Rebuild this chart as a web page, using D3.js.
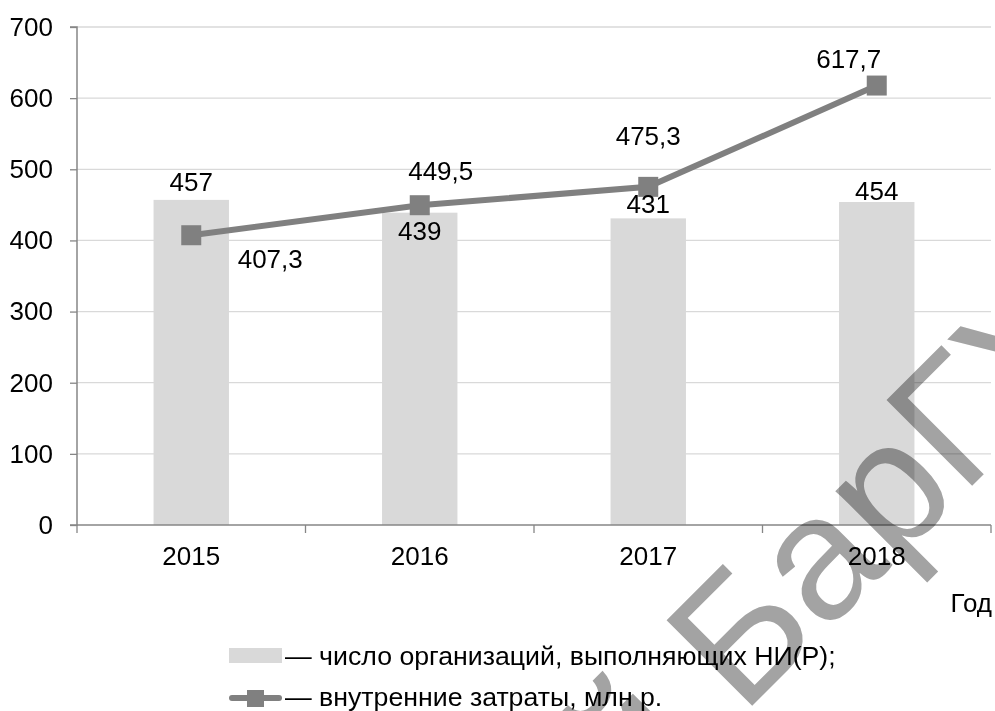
<!DOCTYPE html>
<html>
<head>
<meta charset="utf-8">
<script src="https://cdn.jsdelivr.net/npm/d3@7"></script>
<style>
  body { margin: 0; background: #fff; }
  svg text { font-family: "Liberation Sans", Arial, sans-serif; fill: #000; }
</style>
</head>
<body>
<div id="chart"></div>
<script>
// data
var years = ["2015", "2016", "2017", "2018"];
var orgCount = [457, 439, 431, 454];            // число организаций
var costs = [407.3, 449.5, 475.3, 617.7];        // внутренние затраты, млн р.
var yTicks = [0, 100, 200, 300, 400, 500, 600, 700];
var legendNames = ["— число организаций, выполняющих НИ(Р);", "— внутренние затраты, млн р."];

// label placement (px, relative to bar top / marker centre)
var barLabelDy = [-9, 27, -5, -2];
var lineLabelDx = [79, 21, 0, -28];
var lineLabelDy = [33, -25, -42, -18];

var W = 995, H = 711;
var plotLeft = 77, plotRight = 991, plotTop = 27, plotBottom = 525;
var grey = "#808080";

var svg = d3.select("#chart")
  .append("svg")
  .attr("width", W)
  .attr("height", H);

var x = d3.scaleBand()
  .domain(years)
  .range([plotLeft, plotRight])
  .paddingInner(0.67)
  .paddingOuter(0.335);

var y = d3.scaleLinear()
  .domain([0, 700])
  .range([plotBottom, plotTop]);

// gridlines
svg.append("g")
  .selectAll("line")
  .data(yTicks.slice(1))
  .enter()
  .append("line")
    .attr("x1", plotLeft)
    .attr("x2", plotRight)
    .attr("y1", function(d) { return y(d); })
    .attr("y2", function(d) { return y(d); })
    .attr("stroke", "#d9d9d9")
    .attr("stroke-width", 1.3);

// bars
svg.append("g")
  .selectAll("rect")
  .data(orgCount)
  .enter()
  .append("rect")
    .attr("x", function(d, i) { return x(years[i]); })
    .attr("width", x.bandwidth())
    .attr("y", function(d) { return y(d); })
    .attr("height", function(d) { return y(0) - y(d); })
    .attr("fill", "#d9d9d9");

// y axis
var yAxis = svg.append("g")
  .attr("transform", "translate(" + plotLeft + ",0)")
  .call(d3.axisLeft(y).tickValues(yTicks).tickSize(7).tickPadding(17));
yAxis.select(".domain").attr("stroke", "#868686").attr("stroke-width", 1.5)
  .attr("d", "M-7," + y(700) + "H0V" + y(0) + "H-7");
yAxis.selectAll(".tick line").attr("stroke", "#868686").attr("stroke-width", 1.3);
yAxis.selectAll(".tick text").style("font-size", "26px").attr("fill", "#000");
yAxis.attr("font-family", null).attr("font-size", null);

// x axis line + boundary ticks
svg.append("line")
  .attr("x1", plotLeft).attr("x2", plotRight)
  .attr("y1", y(0)).attr("y2", y(0))
  .attr("stroke", "#868686").attr("stroke-width", 1.5);
svg.append("g")
  .selectAll("line")
  .data(d3.range(years.length + 1))
  .enter()
  .append("line")
    .attr("x1", function(i) { return plotLeft + i * x.step(); })
    .attr("x2", function(i) { return plotLeft + i * x.step(); })
    .attr("y1", y(0))
    .attr("y2", y(0) + 8)
    .attr("stroke", "#868686")
    .attr("stroke-width", 1.3);

svg.append("g")
  .selectAll("text")
  .data(years)
  .enter()
  .append("text")
    .attr("x", function(d) { return x(d) + x.bandwidth() / 2; })
    .attr("y", 565)
    .attr("text-anchor", "middle")
    .style("font-size", "26px")
    .text(function(d) { return d; });

svg.append("text")
  .attr("x", 992)
  .attr("y", 612)
  .attr("text-anchor", "end")
  .style("font-size", "26px")
  .text("Год");

// line series
var cx = function(i) { return x(years[i]) + x.bandwidth() / 2; };
var line = d3.line()
  .x(function(d, i) { return cx(i); })
  .y(function(d) { return y(d); });

svg.append("path")
  .datum(costs)
  .attr("d", line)
  .attr("fill", "none")
  .attr("stroke", grey)
  .attr("stroke-width", 6);

var ms = 20;
svg.append("g")
  .selectAll("rect")
  .data(costs)
  .enter()
  .append("rect")
    .attr("x", function(d, i) { return cx(i) - ms / 2; })
    .attr("y", function(d) { return y(d) - ms / 2; })
    .attr("width", ms)
    .attr("height", ms)
    .attr("fill", grey);

// data labels
svg.append("g")
  .selectAll("text")
  .data(orgCount)
  .enter()
  .append("text")
    .attr("x", function(d, i) { return cx(i); })
    .attr("y", function(d, i) { return y(d) + barLabelDy[i]; })
    .attr("text-anchor", "middle")
    .style("font-size", "26px")
    .text(function(d) { return d; });

svg.append("g")
  .selectAll("text")
  .data(costs)
  .enter()
  .append("text")
    .attr("x", function(d, i) { return cx(i) + lineLabelDx[i]; })
    .attr("y", function(d, i) { return y(d) + lineLabelDy[i]; })
    .attr("text-anchor", "middle")
    .style("font-size", "26px")
    .text(function(d) { return String(d).replace(".", ","); });

// legend
svg.append("rect")
  .attr("x", 229).attr("y", 648)
  .attr("width", 53).attr("height", 15)
  .attr("fill", "#d9d9d9");
svg.append("line")
  .attr("x1", 232).attr("x2", 279)
  .attr("y1", 698).attr("y2", 698)
  .attr("stroke", grey).attr("stroke-width", 6)
  .attr("stroke-linecap", "round");
svg.append("rect")
  .attr("x", 247).attr("y", 690)
  .attr("width", 17).attr("height", 17)
  .attr("fill", grey);

svg.selectAll("legendText")
  .data(legendNames)
  .enter()
  .append("text")
    .attr("x", 285)
    .attr("y", function(d, i) { return 665 + i * 41; })
    .style("font-size", "26.7px")
    .text(function(d) { return d; });

// watermark (multiplied over the chart, so black text stays black)
var wm = svg.append("g")
  .attr("transform", "translate(742,716) rotate(-45)")
  .style("mix-blend-mode", "multiply");
wm.append("text")
  .attr("x", 0).attr("y", 0)
  .style("font-size", "176px")
  .style("fill", "#a3a3a3")
  .text("БарГУ");
wm.append("text")
  .attr("x", -49).attr("y", 0)
  .attr("text-anchor", "end")
  .style("font-size", "176px")
  .style("fill", "#a3a3a3")
  .text("Репозиторий");
</script>
</body>
</html>
